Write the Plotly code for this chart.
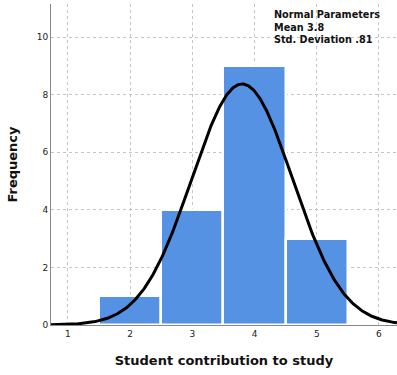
import numpy as np
import plotly.graph_objects as go

categories = [2, 3, 4, 5]
frequencies = [1, 4, 9, 3]
mean_val = 3.8
sd_val = 0.81
x_ticks = [1, 2, 3, 4, 5, 6]
y_ticks = [0, 2, 4, 6, 8, 10]

n_total = sum(frequencies)
xmin, xmax = 0.727, 6.29
xs = np.linspace(xmin, xmax, 400)
ys = n_total * 1.0 / (sd_val * np.sqrt(2 * np.pi)) * np.exp(-0.5 * ((xs - mean_val) / sd_val) ** 2)

fig = go.Figure()
fig.add_trace(go.Bar(
    x=categories, y=frequencies, width=1.0,
    marker=dict(color="#5592e4", line=dict(color="white", width=2.5)),
    showlegend=False,
))
fig.add_trace(go.Scatter(
    x=xs, y=ys, mode="lines",
    line=dict(color="black", width=3), showlegend=False,
))

font_family = "DejaVu Sans, Verdana, sans-serif"
fig.update_layout(
    width=397, height=375,
    margin=dict(l=51, r=0, t=4, b=50, autoexpand=False),
    plot_bgcolor="white", paper_bgcolor="white",
    bargap=0,
    font=dict(family=font_family, color="#222"),
    xaxis=dict(
        range=[xmin, xmax], tickvals=x_ticks, ticktext=[str(v) for v in x_ticks],
        showgrid=True, gridcolor="#c4c4c4", griddash="3px,3px", gridwidth=1,
        showline=True, linecolor="#888", linewidth=1, automargin=False,
        zeroline=False, ticks="", tickfont=dict(size=9, color="#222"),
        title=dict(text="<b>Student contribution to study</b>", font=dict(size=13, color="#111"), standoff=18),
    ),
    yaxis=dict(
        range=[0, 11.15], tickvals=y_ticks, ticktext=[str(v) for v in y_ticks],
        showgrid=True, gridcolor="#c4c4c4", griddash="3px,3px", gridwidth=1,
        showline=True, linecolor="#888", linewidth=1, automargin=False,
        zeroline=False, ticks="", tickfont=dict(size=9, color="#222"),
        title=dict(text="<b>Frequency</b>", font=dict(size=13, color="#111"), standoff=16),
    ),
    annotations=[dict(
        xref="paper", yref="paper", x=0.64, y=0.99, xanchor="left", yanchor="top",
        text="<b>Normal Parameters<br>Mean 3.8<br>Std. Deviation .81</b>",
        showarrow=False, align="left",
        font=dict(size=9.7, color="#111", family=font_family),
    )],
)
fig.write_html("out.html", config={"displayModeBar": False},
               post_script="document.body.style.margin='0';document.body.style.overflow='hidden';")
